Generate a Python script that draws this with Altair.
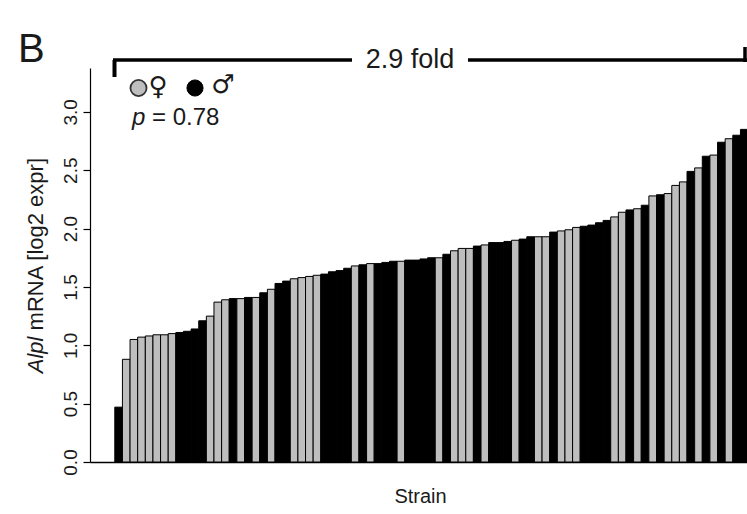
import altair as alt
import pandas as pd

# ---- data ----
expr = [0.47, 0.88, 1.05, 1.07, 1.08, 1.09, 1.09, 1.10, 1.11, 1.12,
        1.14, 1.21, 1.25, 1.37, 1.39, 1.40, 1.40, 1.41, 1.41, 1.45,
        1.48, 1.53, 1.55, 1.57, 1.58, 1.59, 1.60, 1.61, 1.63, 1.64,
        1.66, 1.68, 1.69, 1.70, 1.70, 1.71, 1.72, 1.72, 1.73, 1.73,
        1.74, 1.75, 1.75, 1.78, 1.81, 1.83, 1.83, 1.85, 1.86, 1.88,
        1.88, 1.89, 1.90, 1.91, 1.93, 1.93, 1.93, 1.97, 1.98, 1.99,
        2.01, 2.02, 2.03, 2.05, 2.07, 2.10, 2.14, 2.16, 2.17, 2.20,
        2.28, 2.29, 2.30, 2.37, 2.40, 2.49, 2.52, 2.62, 2.63, 2.74,
        2.77, 2.80, 2.85]
sex = ["M", "F", "F", "F", "F", "F", "F", "F", "M", "M",
       "M", "M", "F", "F", "F", "M", "F", "M", "F", "M",
       "F", "M", "M", "F", "F", "F", "F", "M", "M", "M",
       "M", "F", "M", "F", "M", "M", "M", "F", "M", "M",
       "M", "M", "F", "M", "F", "F", "F", "M", "F", "M",
       "M", "M", "F", "M", "M", "F", "F", "M", "F", "F",
       "F", "M", "M", "M", "M", "F", "F", "M", "F", "M",
       "F", "M", "F", "F", "F", "M", "F", "M", "F", "M",
       "F", "M", "M"]
y_ticks = [0.0, 0.5, 1.0, 1.5, 2.0, 2.5, 3.0]
sex_domain = ["F", "M"]
sex_colors = ["#BEBEBE", "#000000"]

FONT = "Liberation Sans"
W, H = 657, 394

df = pd.DataFrame({"strain": list(range(len(expr))), "expr": expr, "sex": sex})
df["strain_end"] = df["strain"] + 1

xscale = alt.Scale(domain=[-3.25, 82.86], nice=False, zero=False)
yscale = alt.Scale(domain=[0, 3.376], nice=False, zero=True)

bars = alt.Chart(df).mark_bar(stroke="black", strokeWidth=1, clip=True, opacity=1).encode(
    x=alt.X("strain:Q", scale=xscale,
            axis=alt.Axis(title=None, labels=False, ticks=False, grid=False,
                          domain=True, domainColor="black", domainWidth=1.5)),
    x2="strain_end:Q",
    y=alt.Y("expr:Q", scale=yscale,
            axis=alt.Axis(values=y_ticks, format=".1f", title=None, grid=False,
                          labelAngle=270, labelAlign="center", labelBaseline="bottom",
                          labelFontSize=19, labelFont=FONT, labelColor="#1a1a1a",
                          labelPadding=3, tickSize=7, tickColor="black", tickWidth=1.2,
                          domainColor="black", domainWidth=1.2)),
    y2=alt.datum(0),
    color=alt.Color("sex:N", scale=alt.Scale(domain=sex_domain, range=sex_colors), legend=None),
)


def txt(s, x, y, size, **kw):
    params = dict(fontSize=size, font=FONT, color="#1a1a1a")
    params.update(kw)
    return alt.Chart(pd.DataFrame({"t": [s]})).mark_text(**params).encode(
        text="t:N", x=alt.value(x), y=alt.value(y))


def seg(x1, x2, y1, y2, w=3.5):
    return alt.Chart(pd.DataFrame({"a": [0]})).mark_rule(color="black", strokeWidth=w).encode(
        x=alt.value(x1), x2=alt.value(x2), y=alt.value(y1), y2=alt.value(y2))


# y title: italic gene name + normal rest, rotated (reads bottom to top)
ys = 22
yc = H / 2
anchor = yc + (9.836 / 2 - 1.667) * ys
ytitle_a = txt("Alpl", -54, anchor, ys, angle=270, align="right",
               baseline="middle", fontStyle="italic")
ytitle_b = txt("mRNA [log2 expr]", -54, anchor - 0.278 * ys, ys, angle=270,
               align="left", baseline="middle")

xtitle = txt("Strain", W / 2 + 2, 429, 20, align="center", baseline="middle")

panel = txt("B", -72, -6, 40, align="left", baseline="alphabetic")

# bracket with fold label
br_l = seg(23, 262, -8, -8)
br_r = seg(378, 660, -8, -8)
br_tl = seg(24.5, 24.5, -8, 9, 4)
br_tr = seg(655, 655, -21, -6, 3.5)
fold = txt("2.9 fold", 320, -8, 27, align="center", baseline="middle")

# legend: circles + sex symbols
circ_f = alt.Chart(pd.DataFrame({"a": [0]})).mark_circle(
    size=260, fill="#BEBEBE", stroke="#333333", strokeWidth=1.8, opacity=1).encode(
    x=alt.value(48.5), y=alt.value(20))
circ_m = alt.Chart(pd.DataFrame({"a": [0]})).mark_circle(
    size=260, fill="#000000", stroke="#000000", strokeWidth=1, opacity=1).encode(
    x=alt.value(105), y=alt.value(20))
sym_f = txt("♀", 68, 19, 26, align="center", baseline="middle", font="DejaVu Sans")
sym_m = txt("♂", 133, 17, 26, align="center", baseline="middle", font="DejaVu Sans")
ps = 24
p_a = txt("p", 42, 50, ps, align="left", baseline="middle", fontStyle="italic")
p_b = txt("= 0.78", 42 + (0.556 + 0.278) * ps, 50, ps, align="left", baseline="middle")

chart = alt.layer(
    bars, br_l, br_r, br_tl, br_tr, fold, circ_f, circ_m, sym_f, sym_m, p_a, p_b,
    ytitle_a, ytitle_b, xtitle, panel
).properties(
    width=W, height=H,
    autosize=alt.AutoSizeParams(type="none"),
    padding={"left": 90, "top": 68, "right": 0, "bottom": 52},
).configure_view(stroke=None)

chart.save("out.html", embed_options={"renderer": "svg", "actions": False})
